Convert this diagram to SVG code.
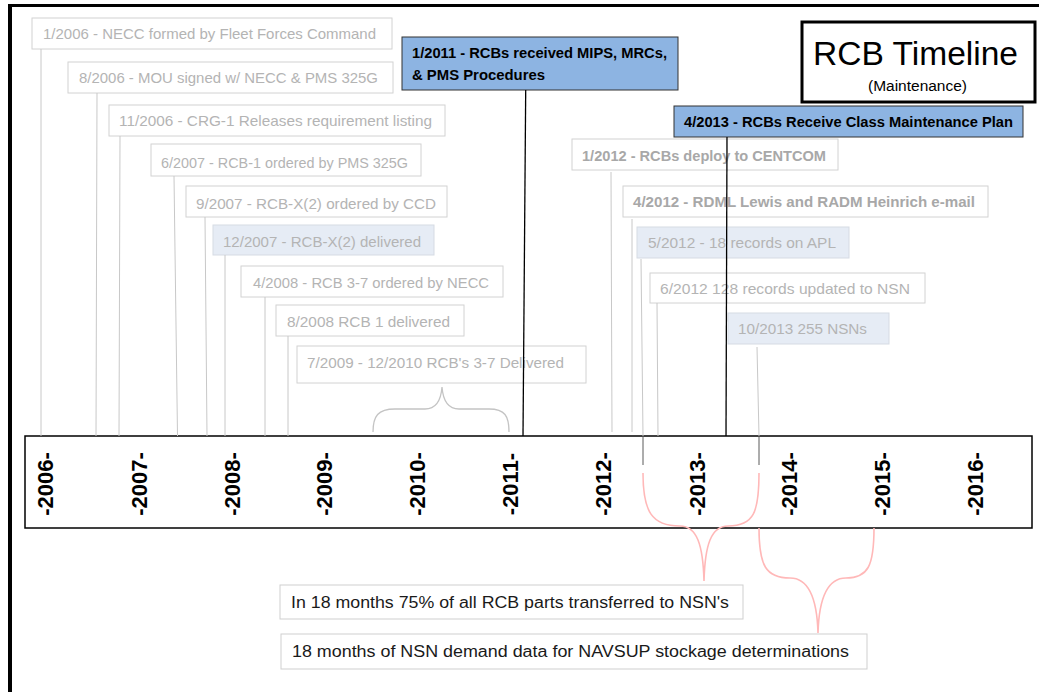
<svg xmlns="http://www.w3.org/2000/svg" width="1039" height="692" viewBox="0 0 1039 692">
<style>
  .ev rect { fill: #ffffff; stroke: #d2d2d2; stroke-width: 1; }
  .ev.tint rect { fill: #e6ecf5; stroke: #d6dbe3; }
  .ev text { font-family: "Liberation Sans", Arial, sans-serif; font-size: 15px; fill: #b4b4b4; }
  .ev.bold text { font-weight: bold; fill: #a8a8a8; }
  .key rect { fill: #8db4e2; stroke: #333333; stroke-width: 1; }
  .key text { font-family: "Liberation Sans", Arial, sans-serif; font-size: 14px; font-weight: bold; fill: #000000; }
  .note rect { fill: #ffffff; stroke: #cfcfcf; stroke-width: 1; }
  .note text { font-family: "Liberation Sans", Arial, sans-serif; font-size: 16px; fill: #1a1a1a; }
  .yr { font-family: "Liberation Sans", Arial, sans-serif; font-size: 22px; font-weight: bold; fill: #000000; text-anchor: middle; }
  .gl { stroke: #c8c8c8; stroke-width: 1; fill: none; }
  .dl { stroke: #5a5a5a; stroke-width: 1; fill: none; }
  .bl { stroke: #000000; stroke-width: 1.3; fill: none; }
  .pink { stroke: #ffb8b8; stroke-width: 1.6; fill: none; }
  .gbr { stroke: #c4c4c4; stroke-width: 1.3; fill: none; }
</style>
<rect x="0" y="0" width="1039" height="692" fill="#ffffff"/>

<!-- frame -->
<g id="frame">
  <line x1="8" y1="5.5" x2="1039" y2="5.5" stroke="#000" stroke-width="3"/>
  <line x1="10" y1="4" x2="10" y2="692" stroke="#000" stroke-width="4"/>
</g>

<!-- title -->
<g id="title">
  <rect x="802" y="22" width="233" height="80" fill="#fff" stroke="#000" stroke-width="3"/>
  <text x="813" y="65" font-family="Liberation Sans, Arial, sans-serif" font-size="33" textLength="205" lengthAdjust="spacingAndGlyphs">RCB Timeline</text>
  <text x="868" y="91" font-family="Liberation Sans, Arial, sans-serif" font-size="14" textLength="99" lengthAdjust="spacingAndGlyphs">(Maintenance)</text>
</g>

<!-- timeline bar -->
<g id="timeline">
  <rect x="25" y="436" width="1007" height="92" fill="#fff" stroke="#000" stroke-width="1.5"/>
  <text class="yr" transform="translate(53,484) rotate(-90)">-2006-</text>
  <text class="yr" transform="translate(147,484) rotate(-90)">-2007-</text>
  <text class="yr" transform="translate(240,484) rotate(-90)">-2008-</text>
  <text class="yr" transform="translate(332,484) rotate(-90)">-2009-</text>
  <text class="yr" transform="translate(425,484) rotate(-90)">-2010-</text>
  <text class="yr" transform="translate(518,484) rotate(-90)">-2011-</text>
  <text class="yr" transform="translate(611,484) rotate(-90)">-2012-</text>
  <text class="yr" transform="translate(705,484) rotate(-90)">-2013-</text>
  <text class="yr" transform="translate(797,484) rotate(-90)">-2014-</text>
  <text class="yr" transform="translate(890,484) rotate(-90)">-2015-</text>
  <text class="yr" transform="translate(983,484) rotate(-90)">-2016-</text>
</g>

<!-- event nodes -->
<g id="ev-2006-01" class="ev"><rect x="32" y="18" width="360" height="31"/><text x="43" y="39" textLength="333" lengthAdjust="spacingAndGlyphs">1/2006 - NECC formed by Fleet Forces Command</text></g>
<g id="ev-2006-08" class="ev"><rect x="68" y="62" width="325" height="31"/><text x="79" y="83" textLength="299" lengthAdjust="spacingAndGlyphs">8/2006 - MOU signed w/ NECC &amp; PMS 325G</text></g>
<g id="ev-2006-11" class="ev"><rect x="109" y="105" width="336" height="31"/><text x="119" y="126" textLength="313" lengthAdjust="spacingAndGlyphs">11/2006 - CRG-1 Releases requirement listing</text></g>
<g id="ev-2007-06" class="ev"><rect x="151" y="144" width="270" height="32"/><text x="161" y="168" textLength="247" lengthAdjust="spacingAndGlyphs">6/2007 -  RCB-1 ordered  by PMS 325G</text></g>
<g id="ev-2007-09" class="ev"><rect x="186" y="186" width="261" height="31"/><text x="196" y="209" textLength="240" lengthAdjust="spacingAndGlyphs">9/2007 -  RCB-X(2) ordered  by CCD</text></g>
<g id="ev-2007-12" class="ev tint"><rect x="213" y="225" width="221" height="30"/><text x="223" y="247" textLength="198" lengthAdjust="spacingAndGlyphs">12/2007 - RCB-X(2) delivered</text></g>
<g id="ev-2008-04" class="ev"><rect x="241" y="266" width="262" height="31"/><text x="253" y="288" textLength="236" lengthAdjust="spacingAndGlyphs">4/2008 - RCB 3-7 ordered  by NECC</text></g>
<g id="ev-2008-08" class="ev"><rect x="276" y="305" width="188" height="31"/><text x="287" y="327" textLength="163" lengthAdjust="spacingAndGlyphs">8/2008  RCB 1 delivered</text></g>
<g id="ev-2009-07" class="ev"><rect x="297" y="346" width="289" height="37"/><text x="307" y="368" textLength="257" lengthAdjust="spacingAndGlyphs">7/2009 - 12/2010 RCB's 3-7 Delivered</text></g>

<g id="ev-2012-01" class="ev bold"><rect x="572" y="139" width="266" height="31"/><text x="582" y="161" textLength="244" lengthAdjust="spacingAndGlyphs">1/2012 - RCBs deploy to CENTCOM</text></g>
<g id="ev-2012-04" class="ev bold"><rect x="623" y="186" width="365" height="31"/><text x="633" y="207" textLength="342" lengthAdjust="spacingAndGlyphs">4/2012  - RDML Lewis and RADM Heinrich e-mail</text></g>
<g id="ev-2012-05" class="ev tint"><rect x="637" y="227" width="212" height="31"/><text x="648" y="248" textLength="188" lengthAdjust="spacingAndGlyphs">5/2012  - 18 records  on APL</text></g>
<g id="ev-2012-06" class="ev"><rect x="650" y="273" width="275" height="30"/><text x="660" y="294" textLength="250" lengthAdjust="spacingAndGlyphs">6/2012  128 records  updated to NSN</text></g>
<g id="ev-2013-10" class="ev tint"><rect x="728" y="313" width="161" height="31"/><text x="738" y="334" textLength="129" lengthAdjust="spacingAndGlyphs">10/2013  255 NSNs</text></g>

<!-- key events -->
<g id="key-2011-01" class="key">
  <rect x="402" y="37" width="276" height="53"/>
  <text x="412" y="58" textLength="255" lengthAdjust="spacingAndGlyphs">1/2011 - RCBs received MIPS, MRCs,</text>
  <text x="412" y="80" textLength="133" lengthAdjust="spacingAndGlyphs">&amp; PMS Procedures</text>
</g>
<g id="key-2013-04" class="key">
  <rect x="674" y="106" width="349" height="31"/>
  <text x="684" y="127" textLength="329" lengthAdjust="spacingAndGlyphs">4/2013 - RCBs Receive Class Maintenance Plan</text>
</g>

<!-- notes -->
<g id="note-75pct" class="note">
  <rect x="280" y="585" width="463" height="34"/>
  <text x="291" y="608" textLength="438" lengthAdjust="spacingAndGlyphs">In 18 months 75% of all RCB parts transferred to NSN's</text>
</g>
<g id="note-demand" class="note">
  <rect x="281" y="634" width="586" height="35"/>
  <text x="292" y="657" textLength="557" lengthAdjust="spacingAndGlyphs">18 months of NSN demand data for NAVSUP stockage determinations</text>
</g>

<!-- connectors -->
<g id="connectors">
  <line class="gl" x1="41" y1="49" x2="41" y2="436"/>
  <line class="gl" x1="97" y1="93" x2="96" y2="436"/>
  <line class="gl" x1="120" y1="136" x2="119" y2="436"/>
  <line class="gl" x1="174" y1="176" x2="177.5" y2="436"/>
  <line class="gl" x1="205" y1="217" x2="207" y2="436"/>
  <line class="gl" x1="225" y1="255" x2="225" y2="436"/>
  <line class="gl" x1="265" y1="297" x2="265" y2="436"/>
  <line class="gl" x1="288" y1="336" x2="288" y2="436"/>
  <line class="gl" x1="611" y1="172" x2="612" y2="432"/>
  <line class="gl" x1="632" y1="219" x2="632" y2="432"/>
  <line class="gl" x1="641" y1="259" x2="643" y2="436"/>
  <line class="dl" x1="643" y1="436" x2="643" y2="465"/>
  <line class="gl" x1="657" y1="303" x2="658" y2="436"/>
  <line class="gl" x1="757" y1="347" x2="759" y2="436"/>
  <line class="dl" x1="759" y1="436" x2="759" y2="465"/>
  <line class="bl" x1="525.7" y1="90" x2="523" y2="436"/>
  <line class="bl" x1="727" y1="137" x2="726" y2="436"/>
  <!-- braces -->
  <path class="gbr" d="M373,432 C373,416 378,409 395,409 L425,409 C436,409 441,400 442,387 C443,400 448,409 459,409 L489,409 C505,409 509,416 509,432"/>
  <path class="pink" d="M643,473 C643,512 652,526 680,526 C697,526 703,545 704,581 C705,545 711,526 728,526 C754,526 759,512 759,473"/>
  <path class="pink" d="M759,528 C759,566 766,578 790,578 C809,578 817,598 818,633 C819,598 827,578 846,578 C868,578 874,566 874,528"/>
</g>
</svg>
